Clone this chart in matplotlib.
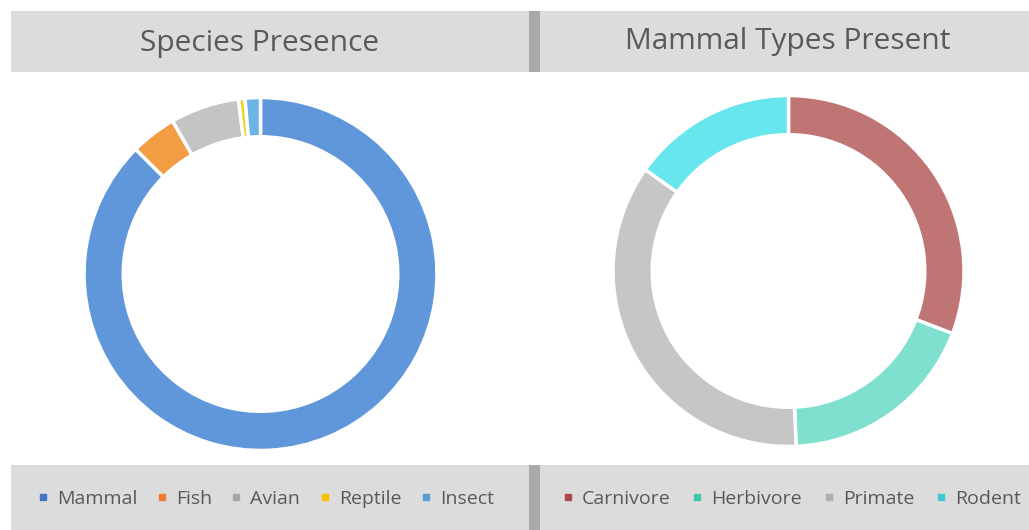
import matplotlib
matplotlib.use("Agg")
import matplotlib.pyplot as plt
from matplotlib.patches import Rectangle
from matplotlib.lines import Line2D

plt.rcParams['font.family'] = ['Open Sans', 'DejaVu Sans']

# Datos (porcentajes aproximados)
especies = ["Mammal", "Fish", "Avian", "Reptile", "Insect"]
especies_val = [87.5, 4.2, 6.3, 0.6, 1.4]
especies_col = ["#5f97da", "#f29d44", "#c4c4c4", "#f2d22e", "#6ab4e6"]
especies_leg = ["#4472c4", "#ed7d31", "#a5a5a5", "#ffc000", "#5b9bd5"]

mamiferos = ["Carnivore", "Herbivore", "Primate", "Rodent"]
mamiferos_val = [30.8, 18.5, 35.5, 15.2]
mamiferos_col = ["#c07575", "#7fe0cf", "#c6c6c6", "#68e6ee"]
mamiferos_leg = ["#b0474f", "#3cc7ab", "#b0b0b0", "#3cc8d4"]

W, H = 1029, 530
fig = plt.figure(figsize=(W / 100, H / 100), dpi=100)
fig.patch.set_facecolor("white")

# Fondo: bandas grises de título y leyenda
bg = fig.add_axes([0, 0, 1, 1])
bg.set_xlim(0, W)
bg.set_ylim(H, 0)
bg.axis("off")
band = "#dcdcdc"
bg.add_patch(Rectangle((11, 11), W - 11, 61, color=band, lw=0))
bg.add_patch(Rectangle((11, 465), W - 11, 65, color=band, lw=0))
bg.add_patch(Rectangle((529, 11), 11, 61, color="#a9a9a9", lw=0))
bg.add_patch(Rectangle((529, 465), 11, 65, color="#a9a9a9", lw=0))
bg.text(260, 43, "Species Presence", ha="center", va="center", fontsize=21.5, color="#595959")
bg.text(788, 41, "Mammal Types Present", ha="center", va="center", fontsize=21.5, color="#595959")


def dona(cx, cy, r, valores, colores):
    ax = fig.add_axes([(cx - r) / W, (H - cy - r) / H, 2 * r / W, 2 * r / H])
    ax.pie(valores, colors=colores, startangle=90, counterclock=False,
           wedgeprops=dict(width=40 / r, edgecolor="white", linewidth=2.5))
    ax.set_xlim(-1.02, 1.02)
    ax.set_ylim(-1.02, 1.02)
    return ax


dona(260.5, 274, 180, especies_val, especies_col)
dona(788.5, 271, 179, mamiferos_val, mamiferos_col)


def leyenda(nombres, colores, x, spacing):
    handles = [Line2D([], [], marker="s", ls="none", color=c, markersize=5) for c in colores]
    fig.legend(handles, nombres, loc="center left", bbox_to_anchor=(x / W, 1 - 499 / H),
               ncol=len(nombres), frameon=False, fontsize=14, handlelength=0.6,
               handletextpad=0.42, columnspacing=spacing, labelcolor="#595959",
               borderpad=0, borderaxespad=0)


leyenda(especies, especies_leg, 37, 0.96)
leyenda(mamiferos, mamiferos_leg, 562, 1.08)

fig.savefig("out.png", dpi=100)
